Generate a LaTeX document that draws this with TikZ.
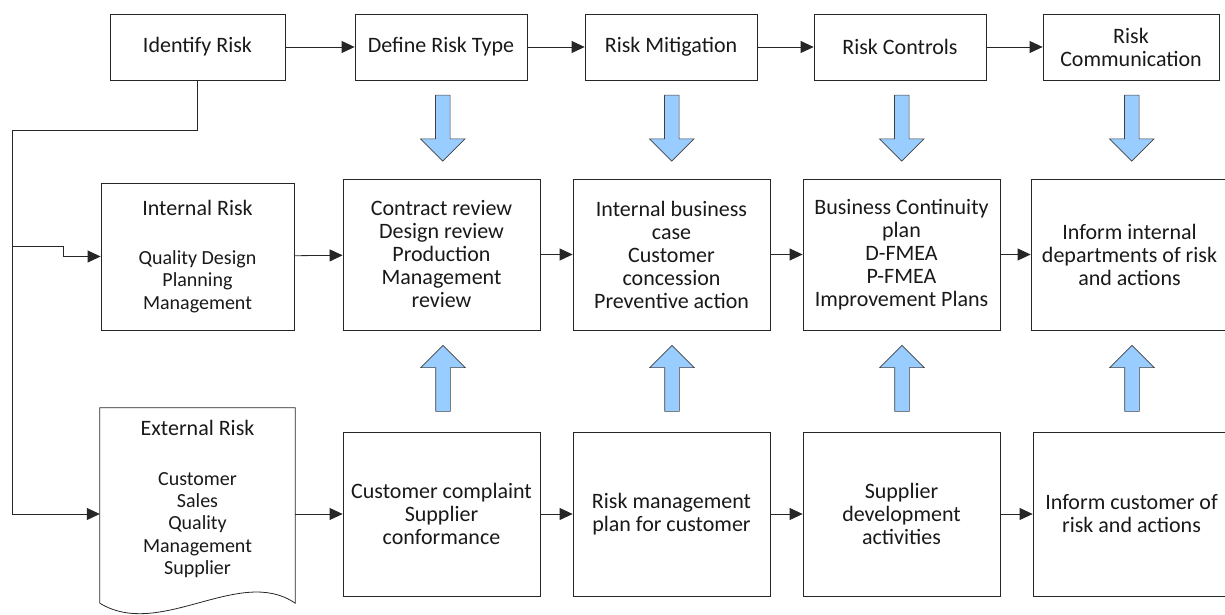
\documentclass[tikz,border=0pt]{standalone}
\usepackage{fontspec}
\setmainfont{Carlito}
\usetikzlibrary{arrows.meta,shapes.arrows,calc}
\definecolor{arrowblue}{HTML}{99CCFF}

\begin{document}
\begin{tikzpicture}[x=1pt,y=-1pt,
    every node/.style={font=\fontsize{22}{23}\selectfont, align=center, text=black!90},
    box/.style={draw=black!85, line width=0.8pt, inner sep=0pt},
    flow/.style={draw=black!85, line width=0.8pt, -{Triangle[length=13pt,width=12pt]}},
    bigarrow/.style={single arrow, draw=black!75, fill=arrowblue, line width=0.6pt,
      minimum height=66pt, minimum width=44pt, single arrow head extend=15pt, inner sep=7pt}]
   \useasboundingbox (0,0) rectangle (1225,615);
   \clip (0,0) rectangle (1225,615);
   % top row
   \node[box, minimum width=175pt, minimum height=66pt] (idr) at (197.5,47) {Identify Risk};
   \node[box, minimum width=172pt, minimum height=66pt] (rtype) at (441,47) {Define Risk Type};
   \node[box, minimum width=172pt, minimum height=66pt] (rmit) at (671,47) {Risk Mitigation};
   \node[box, minimum width=172pt, minimum height=66pt] (rctl) at (900,47) {Risk Controls};
   \node[box, minimum width=176pt, minimum height=66pt] (rcom) at (1131,47) {Risk\\Communication};
   % internal risk row
   \node[box, minimum width=193pt, minimum height=147pt, font=\fontsize{20}{22.3}\selectfont] (intr) at (197.5,256.5)
     {{\fontsize{22}{23}\selectfont Internal Risk}\\[26.5pt]Quality Design\\Planning\\Management};
   \node[box, minimum width=197pt, minimum height=151pt] (crev) at (441.5,254.5)
     {Contract review\\Design review\\Production\\Management\\review};
   \node[box, minimum width=197pt, minimum height=151pt] (ibc) at (671.5,254.5)
     {Internal business\\case\\Customer\\concession\\Preventive action};
   \node[box, minimum width=197pt, minimum height=151pt] (bcp) at (901.5,254.5)
     {Business Continuity\\plan\\D-FMEA\\P-FMEA\\Improvement Plans};
   \node[box, minimum width=197pt, minimum height=151pt] (iid) at (1129.5,254.5)
     {Inform internal\\departments of risk\\and actions};
   % external risk row
   \node[minimum width=195pt, minimum height=195pt, inner sep=0pt] (ext) at (197.5,505.5) {};
   \draw[box] (ext.south west) -- (ext.north west) -- (ext.north east) -- (ext.south east)
     .. controls (240,565) and (160,640) .. (ext.south west);
   \node[font=\fontsize{20}{22.3}\selectfont] (exttxt) at (197.5,499)
     {{\fontsize{22}{23}\selectfont External Risk}\\[27.5pt]Customer\\Sales\\Quality\\Management\\Supplier};
   \node[box, minimum width=197pt, minimum height=164pt] (ccs) at (441.5,514)
     {Customer complaint\\Supplier\\conformance};
   \node[box, minimum width=197pt, minimum height=164pt] (rmp) at (671.5,514)
     {Risk management\\plan for customer};
   \node[box, minimum width=197pt, minimum height=164pt] (sda) at (901.5,514)
     {Supplier\\development\\activities};
   \node[box, minimum width=197pt, minimum height=164pt] (icr) at (1131.5,514)
     {Inform customer of\\risk and actions};
   % block arrows
   \node[bigarrow, rotate=-90] (d1) at ($(rtype.south)!0.5!(crev.north)+(1.5,-5)$) {};
   \node[bigarrow, rotate=-90] (d2) at ($(rmit.south)!0.5!(ibc.north)+(0.5,-5)$) {};
   \node[bigarrow, rotate=-90] (d3) at ($(rctl.south)!0.5!(bcp.north)+(1,-5)$) {};
   \node[bigarrow, rotate=-90] (d4) at ($(rcom.south)!0.5!(iid.north)+(1.5,-5)$) {};
   \node[bigarrow, rotate=90] (u1) at ($(crev.south)!0.5!(ccs.north)+(1.5,1)$) {};
   \node[bigarrow, rotate=90] (u2) at ($(ibc.south)!0.5!(rmp.north)+(0.5,1)$) {};
   \node[bigarrow, rotate=90] (u3) at ($(bcp.south)!0.5!(sda.north)+(0.5,1)$) {};
   \node[bigarrow, rotate=90] (u4) at ($(iid.south)!0.5!(icr.north)+(1.5,1)$) {};
   % connectors
   \draw[flow] (idr) -- (rtype);
   \draw[flow] (rtype) -- (rmit);
   \draw[flow] (rmit) -- (rctl);
   \draw[flow] (rctl) -- (rcom);
   \draw[flow] (intr) -- (crev);
   \draw[flow] (crev) -- (ibc);
   \draw[flow] (ibc) -- (bcp);
   \draw[flow] (bcp) -- (iid);
   \draw[flow] (ext.east |- ccs.west) -- (ccs);
   \draw[flow] (ccs) -- (rmp);
   \draw[flow] (rmp) -- (sda);
   \draw[flow] (sda) -- (icr);
   \coordinate (bend) at (12,130);
   \coordinate (split) at (12,246);
   \draw[flow] (idr.south) |- (bend) |- (ext.west |- ccs.west);
   \draw[flow] (split) -- ++(51,0) |- (intr.west);
\end{tikzpicture}
\end{document}
